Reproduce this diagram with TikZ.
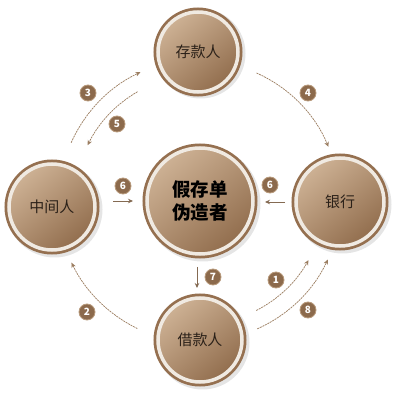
\documentclass[tikz,border=0pt]{standalone}
\usepackage{fontspec}
\setmainfont{Noto Sans CJK SC}
\usetikzlibrary{calc,arrows.meta}
\definecolor{ringdark}{HTML}{957050}
\definecolor{ringlight}{HTML}{F0EAE2}
\definecolor{tanlight}{HTML}{CDB194}
\definecolor{tandark}{HTML}{926E4E}
\definecolor{textdark}{HTML}{2B2119}
\definecolor{arrowcol}{HTML}{9B7D60}
\definecolor{badgefill}{HTML}{8C6A4C}
\definecolor{badgeedge}{HTML}{B89A7C}
\begin{document}
\begin{tikzpicture}[x=1pt,y=1pt,
  disc/.style={circle, inner sep=0pt, minimum size=#1, draw=ringlight, line width=3.5pt,
    top color=tanlight, bottom color=tandark, shading angle=40,
    preaction={draw=ringdark, line width=9pt},
    text=textdark, font=\fontsize{15}{17}\selectfont},
  badge/.style={circle, inner sep=0pt, minimum size=16pt, fill=badgefill, draw=badgeedge,
    line width=0.8pt, text=white, font=\fontsize{10}{10}\selectfont\bfseries},
  flow/.style={draw=arrowcol, line width=0.7pt, dash pattern=on 2pt off 0.8pt,
    -{Stealth[length=5pt,width=4.5pt]}},
  flowstraight/.style={draw=arrowcol!85!black, line width=0.8pt,
    -{Stealth[length=5pt,width=4.5pt]}},
  shadowc/.style={fill=black, opacity=0.10}
]
\useasboundingbox (0,0) rectangle (400,400);
\fill[white] (0,0) rectangle (400,400);
\coordinate (O) at (200,200);

% shadows
\fill[shadowc] (200.5,346.5) circle (45);
\fill[shadowc] (54.5,190.5) circle (48);
\fill[shadowc] (342.5,195.5) circle (49);
\fill[shadowc] (202.5,57.5) circle (47);
\fill[shadowc] (202.5,196.5) circle (58);

% circles
\node[disc=80pt]  (dep)  at (198,348) {存款人};
\node[disc=86pt]  (mid)  at (52,193)  {中间人};
\node[disc=88pt]  (bank) at (340,198) {银行};
\node[disc=84pt]  (bor)  at (200,60)  {借款人};
\node[disc=106pt, align=center, text=black,
      font=\fontsize{18.5}{23}\selectfont\bfseries] (forg) at (200,199) {假存单\\伪造者};

% arc endpoints
\coordinate (a3s) at ($(O)+(156:141)$);
\coordinate (a5s) at ($(O)+(120:125)$);
\coordinate (a4s) at ($(O)+(66:139)$);
\coordinate (a2s) at ($(O)+(244:143)$);
\coordinate (a1s) at ($(O)+(297:124)$);
\coordinate (a8s) at ($(O)+(294:141)$);

\draw[flow] (a3s) arc[start angle=156, end angle=115, radius=141];
\draw[flow] (a5s) arc[start angle=120, end angle=154, radius=125];
\draw[flow] (a4s) arc[start angle=66, end angle=22.5, radius=139];
\draw[flow] (a2s) arc[start angle=244, end angle=206, radius=143];
\draw[flow] (a1s) arc[start angle=297, end angle=331, radius=124];
\draw[flow] (a8s) arc[start angle=294, end angle=335, radius=141];

% straight arrows
\coordinate (l6s) at (113,199);
\coordinate (l6e) at (133,199);
\coordinate (r6s) at (285,198);
\coordinate (r6e) at (265,198);
\coordinate (d7s) at (197,133);
\coordinate (d7e) at (197,112);
\draw[flowstraight] (l6s) -- (l6e);
\draw[flowstraight] (r6s) -- (r6e);
\draw[flowstraight] (d7s) -- (d7e);

% badges
\node[badge] (b3) at (88,307) {3};
\node[badge] (b5) at (117,276) {5};
\node[badge] (b4) at (308,307) {4};
\node[badge] (b2) at (87,88) {2};
\node[badge] (b1) at (276,120) {1};
\node[badge] (b8) at (308,90) {8};
\node[badge] (b6l) at (123,214) {6};
\node[badge] (b6r) at (270,215) {6};
\node[badge] (b7) at (213,123) {7};
\end{tikzpicture}
\end{document}
